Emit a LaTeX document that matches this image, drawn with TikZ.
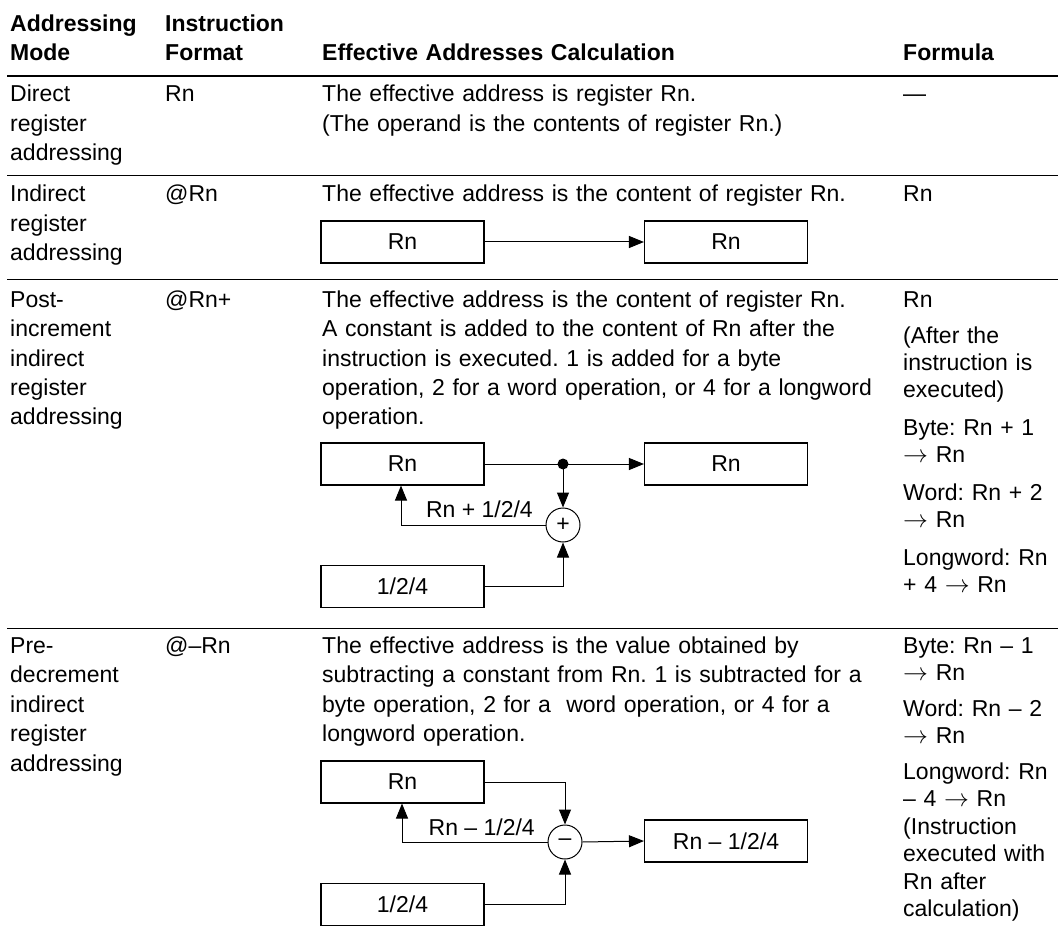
\documentclass[tikz,border=0pt]{standalone}
\usepackage{fontspec}
\setmainfont{Liberation Sans}
\usetikzlibrary{arrows.meta}
\newcommand{\bodyfont}{\fontsize{23}{29.5}\selectfont\frenchspacing}
\newcommand{\formfont}{\fontsize{23}{27.5}\selectfont\frenchspacing}
\newcommand{\headfont}{\fontsize{23}{29}\selectfont\bfseries}
\begin{document}
\begin{tikzpicture}[x=1pt,y=-1pt,
  cell/.style={anchor=base west, inner sep=0pt, align=left, font=\bodyfont},
  fcell/.style={anchor=base west, inner sep=0pt, align=left, font=\formfont, text width=160pt},
  head/.style={anchor=base west, inner sep=0pt, align=left, font=\headfont},
  box/.style={draw, line width=1.1pt, minimum width=163pt, minimum height=42pt, inner sep=0pt, font=\bodyfont},
  sumnode/.style={draw, circle, line width=1pt, minimum size=34pt, inner sep=0pt, font=\bodyfont},
  lab/.style={anchor=base east, inner sep=0pt, font=\bodyfont},
  conn/.style={line width=1pt},
  arr/.style={line width=1pt, -{Triangle[length=15pt,width=12pt]}},
  rulethick/.style={line width=2pt},
  rulethin/.style={line width=1pt}
]
\useasboundingbox (0,0) rectangle (1058,952);
% rules
\draw[rulethick] (7,76) -- (1058,76);
\draw[rulethin] (7,176) -- (1058,176);
\draw[rulethin] (7,280) -- (1058,280);
\draw[rulethin] (7,628) -- (1058,628);
% header
\node[head, text width=150pt] (h1) at (10,32) {Addressing\\Mode};
\node[head, text width=150pt] (h2) at (165,32) {Instruction\\Format};
\node[head, text width=500pt] (h3) at (322,61) {Effective Addresses Calculation};
\node[head, text width=150pt] (h4) at (903,61) {Formula};
% row 1
\node[cell, text width=150pt] (r1a) at (10,102) {Direct\\register\\addressing};
\node[cell, text width=150pt] (r1b) at (165,102) {Rn};
\node[cell, text width=570pt] (r1c) at (322,102) {The effective address is register Rn.\\(The operand is the contents of register Rn.)};
\node[fcell] (r1d) at (903,102) {—};
% row 2
\node[cell, text width=150pt] (r2a) at (10,202) {Indirect\\register\\addressing};
\node[cell, text width=150pt] (r2b) at (165,202) {@Rn};
\node[cell, text width=570pt] (r2c) at (322,202) {The effective address is the content of register Rn.};
\node[fcell] (r2d) at (903,202) {Rn};
\node[box] (b2a) at (402.5,242) {Rn};
\node[box] (b2b) at (726,242) {Rn};
\draw[arr] (b2a.east) -- (b2b.west);
% row 3
\node[cell, text width=150pt] (r3a) at (10,307) {Post-\\increment\\indirect\\register\\addressing};
\node[cell, text width=150pt] (r3b) at (165,307) {@Rn+};
\node[cell, text width=570pt] (r3c) at (322,307) {The effective address is the content of register Rn.\\A constant is added to the content of Rn after the\\instruction is executed. 1 is added for a byte\\operation, 2 for a word operation, or 4 for a longword\\operation.};
\node[fcell] (r3d) at (903,307) {Rn\\[8.5pt](After the\\instruction is\\executed)\\[10pt]Byte: Rn + 1\\$\rightarrow$ Rn\\[10pt]Word: Rn + 2\\$\rightarrow$ Rn\\[10pt]Longword: Rn\\+ 4 $\rightarrow$ Rn};
\node[box] (b3a) at (402.5,464) {Rn};
\node[box] (b3b) at (726,464) {Rn};
\node[box] (b3c) at (402.5,586.5) {1/2/4};
\node[sumnode] (plus) at (563,525) {+};
\node[circle, fill, inner sep=0pt, minimum size=11pt] (dot) at (563,464) {};
\coordinate (fb3) at (401,525);
\coordinate (in3) at (563,586.5);
\draw[conn] (b3a.east) -- (dot.center);
\draw[arr] (dot.center) -- (b3b.west);
\draw[arr] (dot.center) -- (plus.north);
\draw[arr] (plus.west) -- (fb3) -- (fb3 |- b3a.south);
\draw[arr] (b3c.east) -- (in3) -- (plus.south);
\node[lab] (l3) at (533,517) {Rn + 1/2/4};
% row 4
\node[cell, text width=150pt] (r4a) at (10,653) {Pre-\\decrement\\indirect\\register\\addressing};
\node[cell, text width=150pt] (r4b) at (165,653) {@–Rn};
\node[cell, text width=570pt] (r4c) at (322,653) {The effective address is the value obtained by\\subtracting a constant from Rn. 1 is subtracted for a\\byte operation, 2 for a\ \ word operation, or 4 for a\\longword operation.};
\node[fcell] (r4d) at (903,653) {Byte: Rn – 1\\$\rightarrow$ Rn\\[8pt]Word: Rn – 2\\$\rightarrow$ Rn\\[8pt]Longword: Rn\\– 4 $\rightarrow$ Rn\\(Instruction\\executed with\\Rn after\\calculation)};
\node[box] (b4a) at (402.5,782) {Rn};
\node[box] (b4b) at (726,841) {Rn – 1/2/4};
\node[box] (b4c) at (402.5,904.5) {1/2/4};
\node[sumnode] (minus) at (565,842) {–};
\coordinate (in4a) at (565,782);
\coordinate (fb4) at (402,842);
\coordinate (in4b) at (565,904.5);
\draw[arr] (b4a.east) -- (in4a) -- (minus.north);
\draw[arr] (minus.east) -- (b4b.west);
\draw[arr] (minus.west) -- (fb4) -- (fb4 |- b4a.south);
\draw[arr] (b4c.east) -- (in4b) -- (minus.south);
\node[lab] (l4) at (535,835) {Rn – 1/2/4};
\end{tikzpicture}
\end{document}
